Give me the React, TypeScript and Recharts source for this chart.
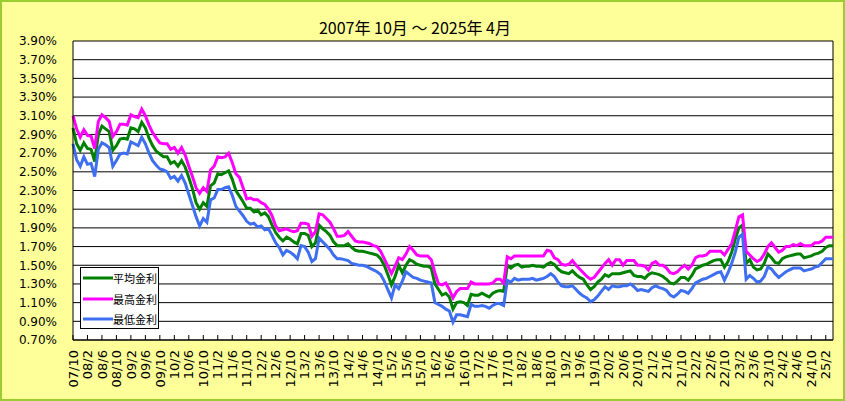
import { CartesianGrid, Line, LineChart, ReferenceLine, XAxis, YAxis } from "recharts";

// 2007/10 〜 2025/4 monthly, 211 points
const START_YEAR = 2007;
const START_MONTH = 10;

const avgRate = [
  2.97, 2.80, 2.73, 2.81, 2.75, 2.74, 2.61, 2.90, 2.99, 2.96,
  2.93, 2.73, 2.78, 2.85, 2.86, 2.85, 2.97, 2.96, 2.93, 3.03,
  2.97, 2.86, 2.78, 2.72, 2.69, 2.66, 2.66, 2.59, 2.61, 2.56,
  2.62, 2.55, 2.44, 2.32, 2.17, 2.10, 2.17, 2.13, 2.35, 2.38,
  2.48, 2.47, 2.49, 2.51, 2.42, 2.30, 2.24, 2.18, 2.11, 2.11,
  2.07, 2.09, 2.04, 2.06, 2.02, 1.93, 1.85, 1.80, 1.76, 1.80,
  1.78, 1.75, 1.73, 1.84, 1.84, 1.82, 1.70, 1.74, 1.93, 1.89,
  1.86, 1.82, 1.75, 1.71, 1.71, 1.71, 1.73, 1.69, 1.66, 1.65,
  1.65, 1.64, 1.63, 1.62, 1.61, 1.57, 1.50, 1.40, 1.29, 1.38,
  1.50, 1.42, 1.50, 1.56, 1.54, 1.51, 1.50, 1.49, 1.49, 1.47,
  1.30, 1.24, 1.18, 1.20, 1.16, 1.03, 1.10, 1.11, 1.10, 1.07,
  1.19, 1.18, 1.18, 1.20, 1.18, 1.16, 1.20, 1.22, 1.23, 1.22,
  1.50, 1.47, 1.50, 1.51, 1.48, 1.49, 1.49, 1.50, 1.49, 1.49,
  1.48, 1.51, 1.53, 1.51, 1.46, 1.43, 1.42, 1.41, 1.44, 1.40,
  1.37, 1.35, 1.29, 1.24, 1.27, 1.32, 1.35, 1.40, 1.38, 1.41,
  1.41, 1.41, 1.42, 1.43, 1.44, 1.39, 1.38, 1.38, 1.36, 1.40,
  1.42, 1.41, 1.40, 1.38, 1.35, 1.31, 1.30, 1.33, 1.37, 1.37,
  1.34, 1.39, 1.46, 1.48, 1.50, 1.51, 1.53, 1.55, 1.56, 1.56,
  1.48, 1.54, 1.64, 1.78, 1.90, 1.93, 1.52, 1.56, 1.48, 1.45,
  1.46, 1.52, 1.62, 1.58, 1.53, 1.52, 1.57, 1.59, 1.60, 1.61,
  1.62, 1.62, 1.58, 1.59, 1.60, 1.62, 1.63, 1.65, 1.69, 1.71,
  1.71,
];

const maxRate = [
  3.10, 2.96, 2.87, 2.95, 2.89, 2.88, 2.75, 3.04, 3.11, 3.08,
  3.04, 2.88, 2.93, 3.01, 3.01, 3.00, 3.11, 3.09, 3.08, 3.17,
  3.10, 3.00, 2.92, 2.86, 2.81, 2.80, 2.80, 2.74, 2.76, 2.70,
  2.76, 2.68, 2.56, 2.45, 2.33, 2.27, 2.33, 2.29, 2.52, 2.56,
  2.66, 2.65, 2.66, 2.70, 2.60, 2.48, 2.44, 2.33, 2.21, 2.22,
  2.20, 2.20, 2.17, 2.15, 2.10, 2.03, 1.92, 1.87, 1.88, 1.89,
  1.87, 1.86, 1.87, 1.95, 1.95, 1.94, 1.81, 1.86, 2.05, 2.04,
  2.00, 1.96, 1.89, 1.81, 1.81, 1.82, 1.86, 1.81, 1.76, 1.75,
  1.75, 1.74, 1.73, 1.71, 1.70, 1.65, 1.57, 1.49, 1.41, 1.49,
  1.58, 1.56, 1.62, 1.70, 1.66, 1.61, 1.60, 1.60, 1.60, 1.56,
  1.42, 1.30, 1.29, 1.31, 1.24, 1.15, 1.22, 1.25, 1.25, 1.25,
  1.32, 1.30, 1.30, 1.30, 1.30, 1.30, 1.31, 1.35, 1.35, 1.31,
  1.59, 1.57, 1.60, 1.60, 1.60, 1.60, 1.60, 1.60, 1.60, 1.60,
  1.60, 1.66, 1.65, 1.58, 1.56, 1.51, 1.50, 1.51, 1.55, 1.50,
  1.46, 1.42, 1.38, 1.35, 1.37, 1.42, 1.47, 1.52, 1.56, 1.50,
  1.56, 1.56, 1.50, 1.55, 1.55, 1.55, 1.50, 1.50, 1.49, 1.45,
  1.52, 1.54, 1.50, 1.50, 1.47, 1.42, 1.41, 1.43, 1.47, 1.50,
  1.46, 1.50, 1.58, 1.60, 1.60, 1.61, 1.65, 1.65, 1.65, 1.65,
  1.61, 1.67, 1.73, 1.87, 2.02, 2.04, 1.65, 1.61, 1.57, 1.54,
  1.56, 1.62, 1.70, 1.74, 1.69, 1.64, 1.66, 1.70, 1.70, 1.72,
  1.71, 1.73, 1.71, 1.71, 1.71, 1.74, 1.74, 1.76, 1.80, 1.80,
  1.80,
];

const minRate = [
  2.80, 2.63, 2.56, 2.66, 2.58, 2.59, 2.45, 2.74, 2.81, 2.79,
  2.76, 2.56, 2.62, 2.69, 2.70, 2.69, 2.82, 2.80, 2.78, 2.87,
  2.80, 2.70, 2.62, 2.57, 2.53, 2.52, 2.50, 2.43, 2.45, 2.40,
  2.46, 2.38, 2.26, 2.14, 2.02, 1.92, 2.00, 1.96, 2.20, 2.22,
  2.31, 2.31, 2.33, 2.34, 2.25, 2.13, 2.08, 2.03, 1.97, 1.94,
  1.95, 1.91, 1.92, 1.88, 1.89, 1.82, 1.74, 1.69, 1.61, 1.66,
  1.64, 1.61, 1.57, 1.71, 1.70, 1.64, 1.54, 1.57, 1.79, 1.75,
  1.71, 1.67, 1.61, 1.57, 1.57, 1.56, 1.55, 1.52, 1.51, 1.50,
  1.50, 1.49, 1.47, 1.45, 1.43, 1.40, 1.33, 1.24, 1.15, 1.29,
  1.25, 1.33, 1.43, 1.40, 1.37, 1.36, 1.34, 1.33, 1.32, 1.31,
  1.10, 1.08, 1.06, 1.03, 1.01, 0.89, 0.97, 0.97, 0.96, 0.95,
  1.08, 1.06, 1.06, 1.07, 1.06, 1.04, 1.07, 1.09, 1.09, 1.07,
  1.34, 1.32, 1.36, 1.34, 1.35, 1.35, 1.35, 1.36, 1.34, 1.35,
  1.36, 1.38, 1.41, 1.38, 1.32, 1.28, 1.27, 1.27, 1.28, 1.24,
  1.20, 1.17, 1.15, 1.11, 1.13, 1.17, 1.22, 1.27, 1.24, 1.28,
  1.27, 1.27, 1.28, 1.28, 1.30, 1.27, 1.23, 1.24, 1.23, 1.22,
  1.26, 1.28, 1.26, 1.25, 1.23, 1.18, 1.16, 1.19, 1.23, 1.22,
  1.20, 1.25, 1.31, 1.33, 1.35, 1.36, 1.38, 1.40, 1.42, 1.43,
  1.34, 1.42, 1.52, 1.64, 1.80, 1.83, 1.35, 1.39, 1.36, 1.32,
  1.33, 1.38, 1.48, 1.46, 1.41, 1.37, 1.40, 1.43, 1.45, 1.47,
  1.47, 1.47, 1.44, 1.45, 1.46, 1.48, 1.49, 1.53, 1.57, 1.57,
  1.57,
];

const yTicks = [0.7, 0.9, 1.1, 1.3, 1.5, 1.7, 1.9, 2.1, 2.3, 2.5, 2.7, 2.9, 3.1, 3.3, 3.5, 3.7, 3.9];

const series = [
  { key: "avg", name: "平均金利", color: "#008000" },
  { key: "max", name: "最高金利", color: "#FF00FF" },
  { key: "min", name: "最低金利", color: "#3D6FF0" },
];

// labels like 07/10, 08/2 ...
const months = avgRate.map((_, i) => {
  const t = START_MONTH - 1 + i;
  const yy = (START_YEAR + Math.floor(t / 12)) % 100;
  return `${String(yy).padStart(2, "0")}/${(t % 12) + 1}`;
});

const data = months.map((m, i) => ({
  month: m,
  avg: avgRate[i],
  max: maxRate[i],
  min: minRate[i],
}));

const XTick = ({ x, y, payload }: any) => (
  <g>
    <line x1={x} y1={y} x2={x} y2={y - 5} stroke="#000" />
    <text
      x={x}
      y={y + 10}
      transform={`rotate(-90 ${x} ${y + 10})`}
      textAnchor="end"
      dy="0.36em"
      fontSize={13}
      fill="#000"
    >
      {payload.value}
    </text>
  </g>
);

const App = () => {
  return (
    <div
      style={{
        position: "fixed",
        left: 0,
        top: 0,
        width: 845,
        height: 401,
        background: "#FFFF99",
        fontFamily: "'DejaVu Sans', sans-serif",
      }}
    >
      <LineChart
        width={845}
        height={401}
        data={data}
        margin={{ top: 41, right: 12, bottom: 0, left: 0 }}
      >
        <CartesianGrid horizontal vertical={false} stroke="#000" fill="#fff" fillOpacity={1} />
        <XAxis
          dataKey="month"
          scale="point"
          padding={{ left: 0, right: 0 }}
          interval={3}
          height={61}
          tickSize={0}
          tickMargin={0}
          tick={<XTick />}
          axisLine={{ stroke: "#000" }}
          tickLine={false}
        />
        <YAxis
          type="number"
          domain={[0.7, 3.9]}
          ticks={yTicks}
          width={73}
          tickSize={0}
          tickMargin={16}
          tickLine={false}
          axisLine={{ stroke: "#000" }}
          tick={{ fill: "#000", fontSize: 12 }}
          tickFormatter={(v: number) => `${v.toFixed(2)}%`}
          interval={0}
        />
        <ReferenceLine x={months[months.length - 1]} stroke="#000" />
        {series.map((s) => (
          <Line
            key={s.key}
            type="linear"
            dataKey={s.key}
            name={s.name}
            stroke={s.color}
            strokeWidth={3}
            dot={false}
            isAnimationActive={false}
          />
        ))}
      </LineChart>

      <div
        style={{
          position: "absolute",
          left: 0,
          width: 830,
          top: 18,
          textAlign: "center",
          fontFamily: "'Noto Sans CJK JP', sans-serif",
          fontSize: 16,
          lineHeight: "18px",
          color: "#000",
        }}
      >
        2007年 10月 ～ 2025年 4月
      </div>

      <div
        style={{
          position: "absolute",
          left: 80,
          top: 267,
          width: 77,
          height: 60,
          background: "#fff",
          border: "1px solid #000",
          fontFamily: "'Noto Sans CJK JP', sans-serif",
          fontSize: 11,
          color: "#000",
        }}
      >
        {series.map((s, i) => (
          <div
            key={s.key}
            style={{ position: "absolute", left: 2, top: 3 + i * 20.5, height: 14, display: "flex", alignItems: "center" }}
          >
            <svg width={30} height={14}>
              <line x1={0} y1={7} x2={30} y2={7} stroke={s.color} strokeWidth={3} />
            </svg>
            <span style={{ lineHeight: "14px" }}>{s.name}</span>
          </div>
        ))}
      </div>

      <div
        style={{
          position: "absolute",
          left: 0,
          top: 0,
          width: 845,
          height: 401,
          boxSizing: "border-box",
          border: "2px solid #9ACD32",
          pointerEvents: "none",
        }}
      />
    </div>
  );
};

export default App;
